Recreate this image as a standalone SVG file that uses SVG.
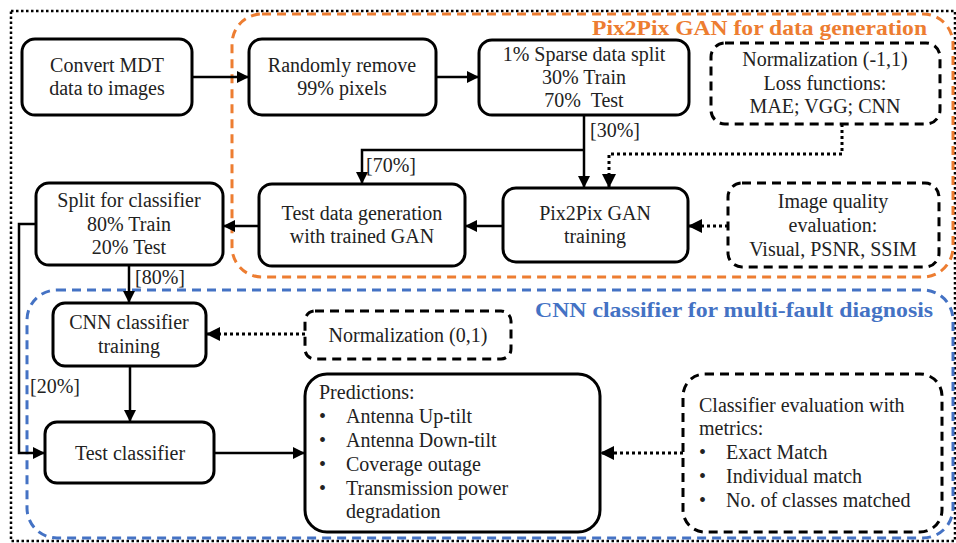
<svg xmlns="http://www.w3.org/2000/svg" width="956" height="543" viewBox="0 0 956 543" font-family="'Liberation Serif', 'Times New Roman', serif" font-size="20">
<defs>
<style>
text{fill:#222}
.c{text-anchor:middle}
.box{fill:#fff;stroke:#000;stroke-width:3}
.dbox{fill:#fff;stroke:#000;stroke-width:3;stroke-dasharray:9,6}
.ln{fill:none;stroke:#000;stroke-width:2.5}
.dot{fill:none;stroke:#000;stroke-width:3;stroke-dasharray:3,3}
.t1{font-weight:bold;fill:#ED7D31;text-anchor:end}
.t2{font-weight:bold;fill:#4472C4;text-anchor:end}
</style>
<marker id="a" viewBox="0 0 10 10" refX="10" refY="5" markerWidth="4.8" markerHeight="4.8" orient="auto"><path d="M0,0 L10,5 L0,10 z" fill="#000"/></marker>
</defs>
<rect width="956" height="543" fill="#fff"/>
<g id="outer"><rect x="11" y="11" width="944" height="530" fill="none" stroke="#000" stroke-width="2.5" stroke-dasharray="2.5,2.5"/></g>
<g id="gan-group">
<rect x="232" y="14" width="721" height="263" rx="30" fill="none" stroke="#ED7D31" stroke-width="3" stroke-dasharray="9,6"/>
<text class="t1" x="927" y="35" font-size="22" textLength="335" lengthAdjust="spacingAndGlyphs">Pix2Pix GAN for data generation</text>
</g>
<g id="cnn-group">
<rect x="27" y="290" width="926" height="248" rx="30" fill="none" stroke="#4472C4" stroke-width="3" stroke-dasharray="9,6"/>
<text class="t2" x="933" y="317" font-size="22" textLength="398" lengthAdjust="spacingAndGlyphs">CNN classifier for multi-fault diagnosis</text>
</g>
<g id="connectors">
<path class="ln" d="M192,77 H249" marker-end="url(#a)"/>
<path class="ln" d="M436,77 H479" marker-end="url(#a)"/>
<path class="ln" d="M584,115 V188" marker-end="url(#a)"/>
<path class="ln" d="M584,150 H362 V184" marker-end="url(#a)"/>
<path class="dot" d="M842,124 V154 H609 V188" marker-end="url(#a)"/>
<path class="ln" d="M503,226 H465" marker-end="url(#a)"/>
<path class="dot" d="M728,226 H688" marker-end="url(#a)"/>
<path class="ln" d="M259,226 H223" marker-end="url(#a)"/>
<path class="ln" d="M129,265 V303" marker-end="url(#a)"/>
<path class="ln" d="M36,224 H19 V453 H45" marker-end="url(#a)"/>
<path class="ln" d="M130,366 V422" marker-end="url(#a)"/>
<path class="dot" d="M305,334 H206" marker-end="url(#a)"/>
<path class="ln" d="M214,453 H305" marker-end="url(#a)"/>
<path class="dot" d="M683,453 H600" marker-end="url(#a)"/>
<text x="590" y="137">[30%]</text>
<text x="366" y="172">[70%]</text>
<text x="135" y="284">[80%]</text>
<text x="30" y="393">[20%]</text>
</g>
<g id="n-convert"><rect class="box" x="22" y="39" width="170" height="76" rx="13"/>
<text class="c" x="107" y="72">Convert MDT</text><text class="c" x="107" y="95">data to images</text></g>
<g id="n-remove"><rect class="box" x="249" y="39" width="187" height="76" rx="13"/>
<text class="c" x="342" y="72">Randomly remove</text><text class="c" x="342" y="95">99% pixels</text></g>
<g id="n-split1"><rect class="box" x="479" y="40" width="210" height="75" rx="13"/>
<text class="c" x="584" y="61">1% Sparse data split</text><text class="c" x="584" y="84">30% Train</text><text class="c" x="584" y="107" xml:space="preserve">70%  Test</text></g>
<g id="n-norm1"><rect class="dbox" x="711" y="43" width="229" height="81" rx="14"/>
<text class="c" x="825" y="66">Normalization (-1,1)</text><text class="c" x="825" y="90">Loss functions:</text><text class="c" x="825" y="113">MAE; VGG; CNN</text></g>
<g id="n-pix2pix"><rect class="box" x="503" y="188" width="185" height="74" rx="13"/>
<text class="c" x="595" y="220">Pix2Pix GAN</text><text class="c" x="595" y="243">training</text></g>
<g id="n-iq"><rect class="dbox" x="728" y="183" width="211" height="84" rx="14"/>
<text class="c" x="833" y="208">Image quality</text><text class="c" x="833" y="232">evaluation:</text><text class="c" x="833" y="256">Visual, PSNR, SSIM</text></g>
<g id="n-testgen"><rect class="box" x="259" y="184" width="206" height="82" rx="13"/>
<text class="c" x="362" y="220">Test data generation</text><text class="c" x="362" y="243">with trained GAN</text></g>
<g id="n-split2"><rect class="box" x="36" y="183" width="187" height="82" rx="13"/>
<text class="c" x="129" y="207">Split for classifier</text><text class="c" x="129" y="231">80% Train</text><text class="c" x="129" y="254">20% Test</text></g>
<g id="n-cnntrain"><rect class="box" x="53" y="303" width="153" height="63" rx="12"/>
<text class="c" x="129" y="329">CNN classifier</text><text class="c" x="129" y="353">training</text></g>
<g id="n-norm2"><rect class="dbox" x="305" y="311" width="206" height="48" rx="10"/>
<text class="c" x="408" y="342">Normalization (0,1)</text></g>
<g id="n-test"><rect class="box" x="45" y="422" width="169" height="61" rx="12"/>
<text class="c" x="130" y="460">Test classifier</text></g>
<g id="n-pred"><rect class="box" x="305" y="374" width="295" height="158" rx="22"/>
<text x="319" y="399">Predictions:</text>
<text x="319" y="423">•</text><text x="346" y="423">Antenna Up-tilt</text>
<text x="319" y="447">•</text><text x="346" y="447">Antenna Down-tilt</text>
<text x="319" y="471">•</text><text x="346" y="471">Coverage outage</text>
<text x="319" y="495">•</text><text x="346" y="495">Transmission power</text>
<text x="346" y="518">degradation</text></g>
<g id="n-eval"><rect class="dbox" x="683" y="374" width="259" height="158" rx="22"/>
<text x="699" y="412">Classifier evaluation with</text>
<text x="699" y="435">metrics:</text>
<text x="699" y="459">•</text><text x="726" y="459">Exact Match</text>
<text x="699" y="483">•</text><text x="726" y="483">Individual match</text>
<text x="699" y="507">•</text><text x="726" y="507">No. of classes matched</text></g>
</svg>
